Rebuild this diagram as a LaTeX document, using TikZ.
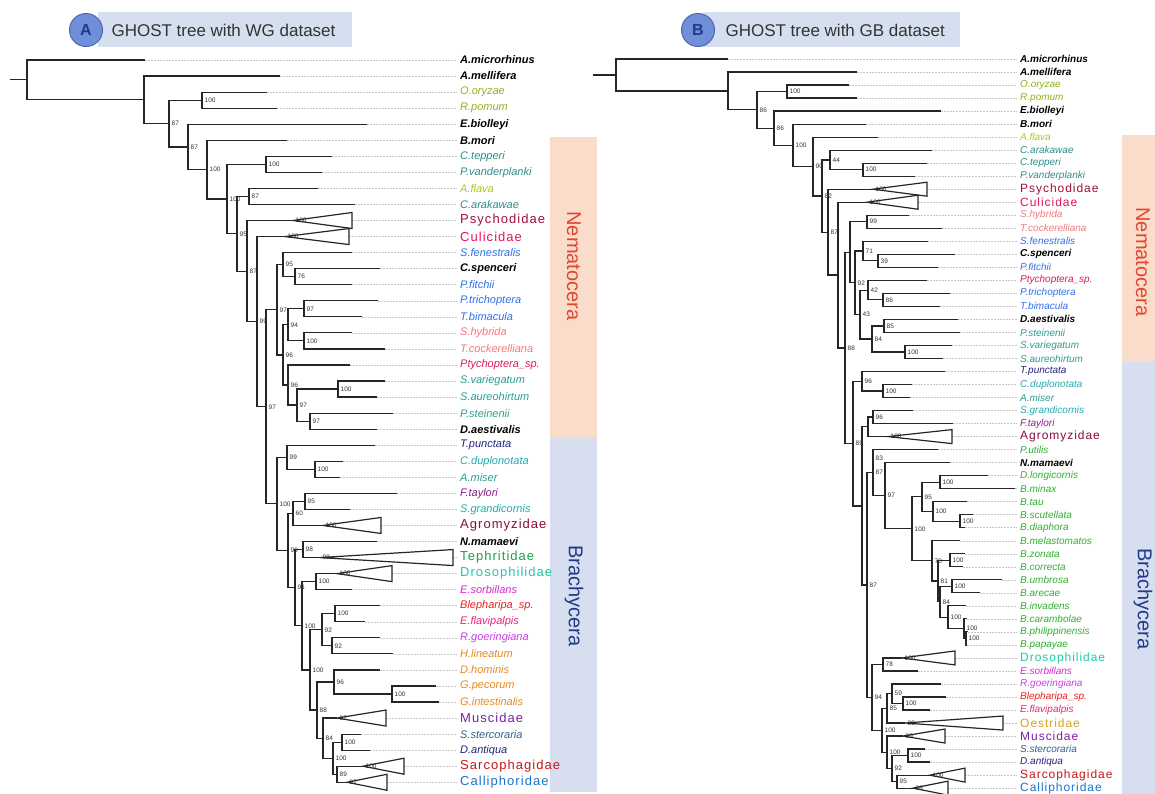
\documentclass[tikz,border=0pt]{standalone}
\usepackage{fontspec}
\setmainfont{Liberation Sans}
\newfontfamily\grpfont[LetterSpace=8]{Liberation Sans}
\usetikzlibrary{calc}
\definecolor{ban}{HTML}{D6DFF0}
\definecolor{cirf}{HTML}{6F8FD8}
\definecolor{cird}{HTML}{4A68B0}
\definecolor{ttx}{HTML}{333333}
\definecolor{nemb}{HTML}{FADCCB}
\definecolor{brab}{HTML}{D6DEEF}
\definecolor{nemt}{HTML}{E2452E}
\definecolor{brat}{HTML}{1F3A8A}
\definecolor{oli}{HTML}{8DB31C}
\definecolor{ygr}{HTML}{A8C81E}
\definecolor{tea}{HTML}{2E8B8B}
\definecolor{cya}{HTML}{22AAB0}
\definecolor{sea}{HTML}{2A9D8F}
\definecolor{blu}{HTML}{2F6FE8}
\definecolor{sal}{HTML}{F2787A}
\definecolor{ptc}{HTML}{D81B55}
\definecolor{nvy}{HTML}{22227A}
\definecolor{pur}{HTML}{8B1C8B}
\definecolor{mag}{HTML}{D42AD4}
\definecolor{vio}{HTML}{C83CE6}
\definecolor{rd}{HTML}{E8201E}
\definecolor{pnk}{HTML}{E8237A}
\definecolor{org}{HTML}{E08A1E}
\definecolor{stl}{HTML}{2C5F8A}
\definecolor{grn}{HTML}{2DB02D}
\definecolor{psy}{HTML}{A0103C}
\definecolor{cul}{HTML}{E8105C}
\definecolor{agr}{HTML}{8B0A3A}
\definecolor{tep}{HTML}{1E9E4A}
\definecolor{dro}{HTML}{1EC8A8}
\definecolor{mus}{HTML}{7B1FA2}
\definecolor{sar}{HTML}{C81414}
\definecolor{cal}{HTML}{1874CD}
\definecolor{oes}{HTML}{D9A21B}
\tikzset{
	br/.style={line width=1.2pt, black!85},
	dt/.style={gray!45, line width=0.5pt, dash pattern=on 1.5pt off 1.5pt, shorten >=3pt},
	lf/.style={font=\fontsize{11}{12}\selectfont\itshape, inner sep=0pt, anchor=west},
	lk/.style={lf, font=\fontsize{11}{12}\selectfont\bfseries\itshape},
	gp/.style={font=\grpfont\fontsize{13}{14}\selectfont, inner sep=0pt, anchor=west},
	rf/.style={font=\fontsize{10}{11}\selectfont\itshape, inner sep=0pt, anchor=west},
	rk/.style={rf, font=\fontsize{10}{11}\selectfont\bfseries\itshape},
	rg/.style={font=\grpfont\fontsize{12}{13}\selectfont, inner sep=0pt, anchor=west},
	bslab/.style={font=\fontsize{6.5}{7}\selectfont, text=ttx, inner sep=0.5pt, xshift=2pt},
	bs/.style={label={[bslab]0:#1}},
	band/.style={rotate=-90, font=\fontsize{20}{20}\selectfont},
}
% clade: name, x, upper child, lower child, support
\newcommand{\clade}[5]{%
	\path let \p1=($(#3)!.5!(#4)$) in coordinate[bs=#5] (#1) at (#2pt,\y1);
	\draw[br] (#1) |- (#3) (#1) |- (#4);}

\begin{document}
\begin{tikzpicture}[x=1pt,y=-1pt]
	\useasboundingbox (0,0) rectangle (1155,793);

	% headers
	\fill[ban] (98,12) rectangle (352,47);
	\node[circle, fill=cirf, draw=cird, line width=1pt, minimum size=33pt, inner sep=0pt,
		font=\fontsize{16}{16}\selectfont\bfseries, text=brat] (cA) at (86,30) {A};
	\node[anchor=west, font=\fontsize{17}{18}\selectfont, text=ttx] (tA) at (108,30) {GHOST tree with WG dataset};
	\fill[ban] (703,12) rectangle (960,47);
	\node[circle, fill=cirf, draw=cird, line width=1pt, minimum size=33pt, inner sep=0pt,
		font=\fontsize{16}{16}\selectfont\bfseries, text=brat] (cB) at (698,30) {B};
	\node[anchor=west, font=\fontsize{17}{18}\selectfont, text=ttx] (tB) at (722,30) {GHOST tree with GB dataset};

	% side bands
	\fill[nemb] (550,137) rectangle (597,437);
	\fill[brab] (550,437) rectangle (597,792);
	\node[band, text=nemt] (nemA) at (574,266) {Nematocera};
	\node[band, text=brat] (braA) at (574,596) {Brachycera};
	\fill[nemb] (1122,135) rectangle (1160,362);
	\fill[brab] (1122,362) rectangle (1160,795);
	\node[band, text=nemt] (nemB) at (1143,262) {Nematocera};
	\node[band, text=brat] (braB) at (1143,599) {Brachycera};

	% tree A leaves
	\foreach \i/\tx/\col/\sty/\txt in {
		1/145/black/lk/A.microrhinus, 2/280/black/lk/A.mellifera, 3/267/oli/lf/O.oryzae,
		4/277/oli/lf/R.pomum, 5/367/black/lk/E.biolleyi, 6/287/black/lk/B.mori,
		7/332/tea/lf/C.tepperi, 8/322/tea/lf/P.vanderplanki, 9/318/ygr/lf/A.flava,
		10/355/tea/lf/C.arakawae, 11/352/psy/gp/Psychodidae, 12/349/cul/gp/Culicidae,
		13/352/blu/lf/S.fenestralis, 14/380/black/lk/C.spenceri, 15/352/blu/lf/P.fitchii,
		16/378/blu/lf/P.trichoptera, 17/362/blu/lf/T.bimacula, 18/352/sal/lf/S.hybrida,
		19/385/sal/lf/T.cockerelliana, 20/350/ptc/lf/Ptychoptera\_sp., 21/385/sea/lf/S.variegatum,
		22/377/sea/lf/S.aureohirtum, 23/393/sea/lf/P.steinenii, 24/377/black/lk/D.aestivalis,
		25/375/nvy/lf/T.punctata, 26/343/cya/lf/C.duplonotata, 27/340/sea/lf/A.miser,
		28/397/pur/lf/F.taylori, 29/350/cya/lf/S.grandicornis, 30/381/agr/gp/Agromyzidae,
		31/377/black/lk/N.mamaevi, 32/453/tep/gp/Tephritidae, 33/392/dro/gp/Drosophilidae,
		34/352/mag/lf/E.sorbillans, 35/380/rd/lf/Blepharipa\_sp., 36/365/pnk/lf/E.flavipalpis,
		37/380/vio/lf/R.goeringiana, 38/393/org/lf/H.lineatum, 39/380/org/lf/D.hominis,
		40/436/org/lf/G.pecorum, 41/439/org/lf/G.intestinalis, 42/386/mus/gp/Muscidae,
		43/361/stl/lf/S.stercoraria, 44/370/nvy/lf/D.antiqua, 45/404/sar/gp/Sarcophagidae,
		46/387/cal/gp/Calliphoridae}{
		\coordinate (a\i) at (\tx, {60+16.05*(\i-1)});
		\node[\sty, text=\col] (la\i) at (460, {60+16.05*(\i-1)}) {\txt};
		\draw[dt] (a\i) -- (la\i.west);
	}
	\foreach \i/\ax/\bv in {11/293/100, 12/285/100, 30/323/100, 32/320/99,
		33/337/100, 42/337/92, 45/363/100, 46/347/92}{
		\coordinate[bs=\bv] (tA\i) at (\ax, {60+16.05*(\i-1)});
		\draw[br] (tA\i) -- ([yshift=8pt]a\i) -- ([yshift=-8pt]a\i) -- cycle;
	}

	% tree A clades
	\clade{A3}{202}{a3}{a4}{100}
	\clade{A7}{266}{a7}{a8}{100}
	\clade{A9}{249}{a9}{a10}{87}
	\clade{A13}{295}{a14}{a15}{76}
	\clade{A12}{283}{a13}{A13}{95}
	\clade{A15}{304}{a16}{a17}{97}
	\clade{A16}{304}{a18}{a19}{100}
	\clade{A17}{288}{A15}{A16}{94}
	\clade{A21}{338}{a21}{a22}{100}
	\clade{A22}{310}{a23}{a24}{97}
	\clade{A20}{297}{A21}{A22}{97}
	\clade{A19}{288}{a20}{A20}{96}
	\clade{A18}{283}{A17}{A19}{96}
	\clade{A14}{277}{A12}{A18}{97}
	\clade{A26}{315}{a26}{a27}{100}
	\clade{A25}{287}{a25}{A26}{99}
	\clade{A28}{305}{a28}{a29}{95}
	\clade{A29}{293}{A28}{tA30}{60}
	\clade{A31}{303}{a31}{tA32}{98}
	\clade{A32}{316}{tA33}{a34}{100}
	\clade{A39}{335}{a35}{a36}{100}
	\clade{A40}{332}{a37}{a38}{92}
	\clade{A41}{322}{A39}{A40}{92}
	\clade{A45}{392}{a40}{a41}{100}
	\clade{A46}{334}{a39}{A45}{96}
	\clade{A48}{342}{a43}{a44}{100}
	\clade{A49}{337}{tA45}{tA46}{89}
	\clade{A52}{333}{A48}{A49}{100}
	\clade{A51}{323}{tA42}{A52}{84}
	\clade{A47}{317}{A46}{A51}{88}
	\clade{A50}{310}{A41}{A47}{100}
	\clade{A38}{302}{A32}{A50}{100}
	\clade{A37}{295}{A31}{A38}{91}
	\clade{A35}{288}{A29}{A37}{99}
	\clade{A24}{277}{A25}{A35}{100}
	\clade{A23}{266}{A14}{A24}{97}
	\clade{A11}{257}{tA12}{A23}{99}
	\clade{A10}{247}{tA11}{A11}{87}
	\clade{A8}{237}{A9}{A10}{95}
	\clade{A6}{227}{A7}{A8}{100}
	\clade{A5}{207}{a6}{A6}{100}
	\clade{A4}{188}{a5}{A5}{87}
	\clade{A2}{169}{A3}{A4}{87}
	\clade{A1}{144}{a2}{A2}{}
	\clade{A0}{27}{a1}{A1}{}
	\coordinate (A00) at ([xshift=-17pt]A0);
	\draw[br] (A00) -- (A0);

	% tree B leaves
	\foreach \i/\tx/\col/\sty/\txt in {
		1/728/black/rk/A.microrhinus, 2/857/black/rk/A.mellifera, 3/849/oli/rf/O.oryzae,
		4/857/oli/rf/R.pomum, 5/941/black/rk/E.biolleyi, 6/866/black/rk/B.mori,
		7/878/ygr/rf/A.flava, 8/932/tea/rf/C.arakawae, 9/927/tea/rf/C.tepperi,
		10/915/tea/rf/P.vanderplanki, 11/927/psy/rg/Psychodidae, 12/918/cul/rg/Culicidae,
		13/909/sal/rf/S.hybrida, 14/942/sal/rf/T.cockerelliana, 15/928/blu/rf/S.fenestralis,
		16/955/black/rk/C.spenceri, 17/938/blu/rf/P.fitchii, 18/927/ptc/rf/Ptychoptera\_sp.,
		19/950/blu/rf/P.trichoptera, 20/940/blu/rf/T.bimacula, 21/958/black/rk/D.aestivalis,
		22/960/sea/rf/P.steinenii, 23/952/sea/rf/S.variegatum, 24/943/sea/rf/S.aureohirtum,
		25/945/nvy/rf/T.punctata, 26/912/cya/rf/C.duplonotata, 27/910/sea/rf/A.miser,
		28/913/cya/rf/S.grandicornis, 29/953/pur/rf/F.taylori, 30/952/agr/rg/Agromyzidae,
		31/938/grn/rf/P.utilis, 32/950/black/rk/N.mamaevi, 33/988/grn/rf/D.longicornis,
		34/1015/grn/rf/B.minax, 35/967/grn/rf/B.tau, 36/973/grn/rf/B.scutellata,
		37/965/grn/rf/B.diaphora, 38/960/grn/rf/B.melastomatos, 39/965/grn/rf/B.zonata,
		40/963/grn/rf/B.correcta, 41/1002/grn/rf/B.umbrosa, 42/980/grn/rf/B.arecae,
		43/966/grn/rf/B.invadens, 44/967/grn/rf/B.carambolae, 45/968/grn/rf/B.philippinensis,
		46/967/grn/rf/B.papayae, 47/955/dro/rg/Drosophilidae, 48/918/mag/rf/E.sorbillans,
		49/941/vio/rf/R.goeringiana, 50/946/rd/rf/Blepharipa\_sp., 51/930/pnk/rf/E.flavipalpis,
		52/1003/oes/rg/Oestridae, 53/945/mus/rg/Muscidae, 54/925/stl/rf/S.stercoraria,
		55/930/nvy/rf/D.antiqua, 56/965/sar/rg/Sarcophagidae, 57/948/cal/rg/Calliphoridae}{
		\coordinate (b\i) at (\tx, {59+13.02*(\i-1)});
		\node[\sty, text=\col] (lb\i) at (1020, {59+13.02*(\i-1)}) {\txt};
		\draw[dt] (b\i) -- (lb\i.west);
	}
	\foreach \i/\ax/\bv in {11/873/100, 12/867/100, 30/888/100, 47/902/100,
		52/905/99, 53/903/99, 56/930/100, 57/913/96}{
		\coordinate[bs=\bv] (tB\i) at (\ax, {59+13.02*(\i-1)});
		\draw[br] (tB\i) -- ([yshift=7pt]b\i) -- ([yshift=-7pt]b\i) -- cycle;
	}

	% tree B clades
	\clade{B3}{787}{b3}{b4}{100}
	\clade{B8b}{863}{b9}{b10}{100}
	\clade{B8}{830}{b8}{B8b}{44}
	\clade{B12}{867}{b13}{b14}{99}
	\clade{B15}{878}{b16}{b17}{39}
	\clade{B14}{863}{b15}{B15}{71}
	\clade{B22}{883}{b19}{b20}{86}
	\clade{B21}{868}{b18}{B22}{42}
	\clade{B24}{884}{b21}{b22}{85}
	\clade{B25}{905}{b23}{b24}{100}
	\clade{B26}{872}{B24}{B25}{84}
	\clade{B27}{860}{B21}{B26}{43}
	\clade{B13}{855}{B14}{B27}{92}
	\clade{B12b}{850}{B12}{B13}{}
	\clade{B32}{883}{b26}{b27}{100}
	\clade{B31}{862}{b25}{B32}{96}
	\clade{B34}{873}{b28}{b29}{96}
	\clade{B33}{868}{B34}{tB30}{}
	\clade{B40}{940}{b33}{b34}{100}
	\clade{B41}{960}{b36}{b37}{100}
	\clade{B42}{933}{b35}{B41}{100}
	\clade{B43}{922}{B40}{B42}{95}
	\clade{B45}{950}{b39}{b40}{100}
	\clade{B46}{952}{b41}{b42}{100}
	\clade{B49}{966}{b45}{b46}{100}
	\clade{B48}{964}{b44}{B49}{100}
	\clade{B47}{948}{b43}{B48}{100}
	\clade{B50}{940}{B46}{B47}{84}
	\clade{B51}{938}{B45}{B50}{81}
	\clade{B52}{932}{b38}{B51}{70}
	\clade{B53}{912}{B43}{B52}{100}
	\clade{B54}{885}{b32}{B53}{97}
	\clade{B55}{873}{b31}{B54}{87}
	\clade{B60}{883}{tB47}{b48}{78}
	\clade{B61}{903}{b50}{b51}{100}
	\clade{B62}{892}{b49}{B61}{59}
	\clade{B63}{887}{B62}{tB52}{85}
	\clade{B64}{908}{b54}{b55}{100}
	\clade{B65}{897}{tB56}{tB57}{95}
	\clade{B66}{892}{B64}{B65}{92}
	\clade{B67}{887}{tB53}{B66}{100}
	\clade{B68}{882}{B63}{B67}{100}
	\clade{B69}{872}{B60}{B68}{94}
	\clade{B70}{867}{B55}{B69}{87}
	\clade{B71}{862}{B33}{B70}{}
	\clade{B72}{853}{B31}{B71}{89}
	\clade{B73}{845}{B12b}{B72}{88}
	\clade{B10}{838}{tB12}{B73}{}
	\clade{B9}{828}{tB11}{B10}{87}
	\clade{B7}{822}{B8}{B9}{82}
	\clade{B6}{813}{b7}{B7}{90}
	\clade{B5}{793}{b6}{B6}{100}
	\clade{B4}{774}{b5}{B5}{86}
	\clade{B2}{757}{B3}{B4}{86}
	\clade{B1}{728}{b2}{B2}{}
	\clade{B0}{616}{b1}{B1}{}
	\coordinate (B00) at ([xshift=-23pt]B0);
	\draw[br] (B00) -- (B0);
	\coordinate[bs=83] (B55x) at ([yshift=14pt]B55);
\end{tikzpicture}
\end{document}
